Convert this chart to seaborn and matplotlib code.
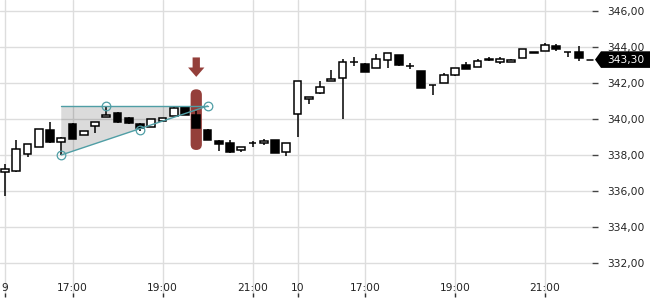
import matplotlib
matplotlib.use("Agg")
import matplotlib.pyplot as plt
import matplotlib.transforms as mtransforms
from matplotlib.patches import Polygon, FancyBboxPatch, FancyArrow
import seaborn as sns
import numpy as np

# ---- data (15-minute candles, two sessions) ----
opens = [337.04, 337.13, 338.04, 338.43, 339.39, 338.71, 339.72, 339.09, 339.59, 340.09,
         340.32, 340.04, 339.70, 339.54, 339.91, 340.17, 340.65, 340.20, 339.39, 338.78,
         338.68, 338.28, 338.65, 338.65, 338.83, 338.18,
         340.26, 341.09, 341.43, 342.09, 342.26, 343.18, 343.06, 342.82, 343.28, 343.56,
         342.96, 342.67, 341.89, 342.02, 342.46, 343.00, 342.87, 343.36, 343.18, 343.18,
         343.41, 343.70, 343.78, 344.06, 343.74, 343.74]
highs = [337.50, 338.83, 338.59, 339.43, 339.83, 339.02, 339.76, 339.33, 339.85, 340.72,
         340.39, 340.09, 339.76, 339.98, 340.04, 340.72, 340.65, 340.42, 339.46, 338.83,
         338.83, 338.46, 338.78, 338.89, 338.83, 338.68,
         342.11, 341.21, 342.13, 342.72, 343.32, 343.46, 343.10, 343.61, 343.65, 343.56,
         343.13, 342.67, 341.89, 342.54, 342.82, 343.15, 343.33, 343.43, 343.43, 343.35,
         343.87, 343.72, 344.24, 344.17, 343.74, 344.06]
lows = [335.72, 337.07, 337.91, 338.43, 338.68, 337.98, 338.87, 339.09, 339.21, 340.09,
        339.76, 339.72, 339.35, 339.54, 339.82, 340.17, 340.22, 339.52, 338.83, 338.24,
        338.13, 338.17, 338.44, 338.55, 338.09, 337.96,
        338.98, 340.82, 341.37, 342.09, 339.98, 342.96, 342.63, 342.82, 342.82, 342.94,
        342.76, 341.74, 341.33, 342.02, 342.41, 342.76, 342.87, 343.20, 343.04, 343.15,
        343.41, 343.64, 343.78, 343.79, 343.46, 343.24]
closes = [337.21, 338.32, 338.59, 339.43, 338.74, 338.93, 338.87, 339.33, 339.85, 340.22,
          339.85, 339.76, 339.52, 339.98, 340.04, 340.63, 340.22, 339.52, 338.83, 338.59,
          338.17, 338.46, 338.65, 338.79, 338.09, 338.68,
          342.11, 341.21, 341.76, 342.20, 343.15, 343.18, 342.63, 343.32, 343.65, 343.00,
          342.96, 341.74, 341.89, 342.44, 342.82, 342.76, 343.22, 343.30, 343.32, 343.30,
          343.87, 343.66, 344.09, 343.87, 343.74, 343.40]

x_tick_pos = [0, 6, 14, 22, 26, 32, 40, 48]
x_tick_labels = ["9", "17:00", "19:00", "21:00", "10", "17:00", "19:00", "21:00"]
y_ticks = [332, 334, 336, 338, 340, 342, 344, 346]
y_tick_labels = ["332,00", "334,00", "336,00", "338,00", "340,00", "342,00", "344,00", "346,00"]

# triangle pattern
tri_x = [5, 9, 12, 18]
tri_y = [338.00, 340.72, 339.40, 340.72]
tri_top_y = 340.72
signal_idx = 17
last_price = 343.30
last_label = "343,30"

# ---- style ----
sns.set_theme(style="white")
plt.rcParams["font.family"] = ["DejaVu Sans"]

W, H = 650, 300
fig = plt.figure(figsize=(W / 100, H / 100), dpi=100)
ax_right = 592
ax = fig.add_axes([0, 3 / H, ax_right / W, 297 / H])

n = len(opens)
xs = np.arange(n)
o = np.array(opens); c = np.array(closes); hi = np.array(highs); lo = np.array(lows)

# grid
ax.set_axisbelow(True)
ax.grid(True, color="#dddddd", lw=1.0)

# triangle fill
ax.add_patch(Polygon([(tri_x[0], tri_top_y), (tri_x[3], tri_top_y), (tri_x[0], tri_y[0])],
                     closed=True, facecolor="black", alpha=0.14, edgecolor="none", zorder=1))

# signal highlight bar (rounded capsule)
red = "#8c302b"
bar_w = 1.0
ax.add_patch(FancyBboxPatch((signal_idx - bar_w / 2, 338.28), bar_w, 341.65 - 338.28,
                            boxstyle="round,pad=0,rounding_size=0.5", mutation_aspect=0.625,
                            facecolor=red, edgecolor="none", alpha=0.93, zorder=2))
ax.add_patch(FancyArrow(signal_idx, 343.42, 0, -1.08, width=0.65, head_width=1.45,
                        head_length=0.52, length_includes_head=True,
                        facecolor=red, edgecolor="none", alpha=0.93, zorder=2))

# candles
ax.vlines(xs, lo, hi, color="black", lw=1.1, zorder=3)
up = c >= o
ax.bar(xs, np.abs(c - o), bottom=np.minimum(o, c), width=0.68,
       color=np.where(up, "white", "black"), edgecolor="black", linewidth=1.1, zorder=4)

# triangle lines + points
teal = "#4f9ea5"
sns.lineplot(x=[tri_x[0], tri_x[3]], y=[tri_top_y, tri_top_y], ax=ax, color=teal, lw=1.0, zorder=5)
sns.lineplot(x=[tri_x[0], tri_x[3]], y=[tri_y[0], tri_y[3]], ax=ax, color=teal, lw=1.0, zorder=5)
ax.plot(tri_x, tri_y, ls="none", marker="o", ms=6.2, mfc="none", mec=teal, mew=0.9, zorder=6)

# last price marker
ax.plot([51.75, 52.3], [last_price, last_price], color="black", lw=1.1, zorder=5, clip_on=False)
blend = mtransforms.blended_transform_factory(fig.transFigure, ax.transData)
hh = 8.3 / 18
ax.add_patch(Polygon([(595 / W, last_price), (601 / W, last_price + hh), (1.0, last_price + hh),
                      (1.0, last_price - hh), (601 / W, last_price - hh)], closed=True,
                     transform=blend, facecolor="black", edgecolor="none", clip_on=False, zorder=7))
ax.text(625.5 / W, last_price, last_label, transform=blend, color="white", fontsize=7.7,
        ha="center", va="center", zorder=8, clip_on=False)

# axes
ax.set_xlim(-5 / 11.25, (ax_right - 5) / 11.25)
ax.set_ylim(346 - 286 / 18, 346 + 11 / 18)
for s in ax.spines.values():
    s.set_visible(False)
ax.set_xticks(x_tick_pos)
ax.set_xticklabels(x_tick_labels)
ax.set_yticks(y_ticks)
ax.set_yticklabels(y_tick_labels)
ax.yaxis.tick_right()
ax.tick_params(axis="y", which="both", right=True, left=False, length=4.3, width=1.0,
               color="#444444", pad=6.5, labelsize=7.7, labelcolor="#222222")
ax.tick_params(axis="x", which="both", bottom=True, direction="in", length=3, width=1.0,
               color="#333333", pad=-10, labelsize=7.7, labelcolor="#222222")
ax.set_xlabel(""); ax.set_ylabel("")
legend = ax.get_legend()
if legend:
    legend.remove()

fig.savefig("out.png", dpi=100)
